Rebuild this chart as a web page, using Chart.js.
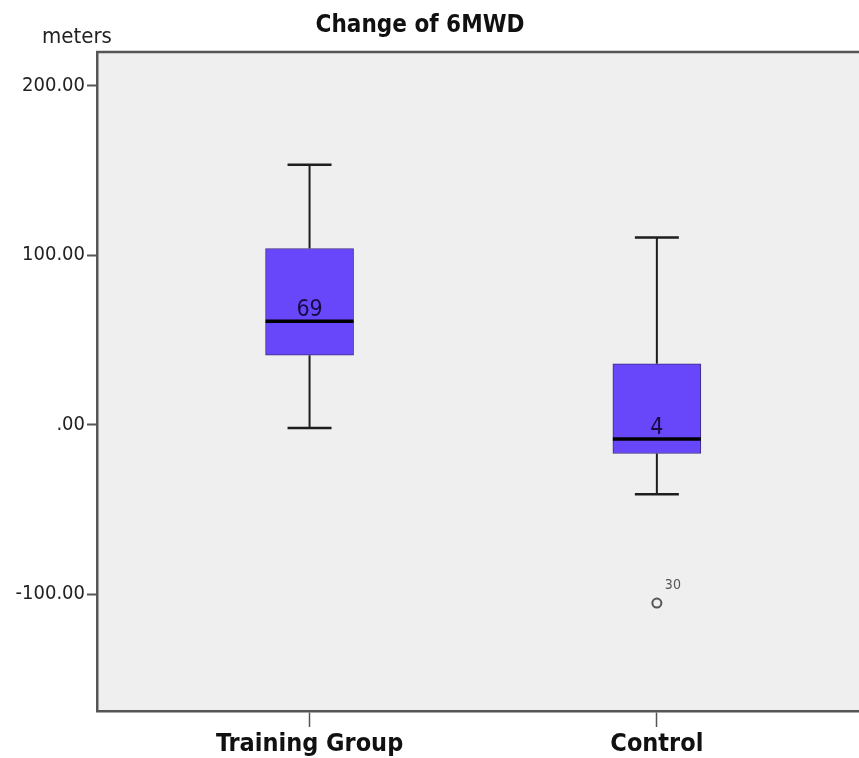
<!DOCTYPE html>
<html>
<head>
<meta charset="utf-8">
<script src="https://cdn.jsdelivr.net/npm/chart.js@4.4.1/dist/chart.umd.min.js"></script>
<style>
  body { margin: 0; background: #fff; }
  canvas { display: block; }
</style>
</head>
<body>
<canvas id="chart" width="859" height="758"></canvas>
<script>
// data
var groups = ['Training Group', 'Control'];
var groupPos = [1, 2];
var whiskerLow = [-2, -41];
var q1 = [41, -17];
var median = [61, -8.5];
var q3 = [104, 36];
var whiskerHigh = [153.5, 110.5];
var medianLabels = ['69', '4'];
var outlierPos = [2];
var outlierValues = [-105.3];
var outlierIds = ['30'];
var yTicks = [-100, 0, 100, 200];

var FONT = "'DejaVu Sans Condensed', 'DejaVu Sans', sans-serif";

var boxPlugin = {
    id: 'boxes',
    beforeDraw: (chart) => {
        let ctx = chart.ctx;
        let a = chart.chartArea;
        ctx.save();
        ctx.fillStyle = '#efefef';
        ctx.fillRect(a.left, a.top, a.right - a.left, a.bottom - a.top);
        ctx.restore();
    },
    beforeDatasetsDraw: (chart) => {
        let ctx = chart.ctx;
        let xs = chart.scales.x;
        let ys = chart.scales.y;
        ctx.save();
        ctx.strokeStyle = '#1e1e1e';
        for (let i = 0; i < groups.length; i++) {
            let x = xs.getPixelForValue(groupPos[i]);
            // whiskers
            ctx.lineWidth = 2;
            ctx.beginPath();
            ctx.moveTo(x, ys.getPixelForValue(whiskerHigh[i]));
            ctx.lineTo(x, ys.getPixelForValue(q3[i]));
            ctx.moveTo(x, ys.getPixelForValue(q1[i]));
            ctx.lineTo(x, ys.getPixelForValue(whiskerLow[i]));
            ctx.stroke();
            // caps
            ctx.lineWidth = 2.5;
            ctx.beginPath();
            ctx.moveTo(x - 22, ys.getPixelForValue(whiskerHigh[i]));
            ctx.lineTo(x + 22, ys.getPixelForValue(whiskerHigh[i]));
            ctx.moveTo(x - 22, ys.getPixelForValue(whiskerLow[i]));
            ctx.lineTo(x + 22, ys.getPixelForValue(whiskerLow[i]));
            ctx.stroke();
        }
        ctx.restore();
    },
    afterDatasetsDraw: (chart) => {
        let ctx = chart.ctx;
        let xs = chart.scales.x;
        let ys = chart.scales.y;
        ctx.save();
        for (let i = 0; i < groups.length; i++) {
            let x = xs.getPixelForValue(groupPos[i]);
            let my = ys.getPixelForValue(median[i]);
            ctx.strokeStyle = '#000';
            ctx.lineWidth = 3.5;
            ctx.beginPath();
            ctx.moveTo(x - 44, my);
            ctx.lineTo(x + 44, my);
            ctx.stroke();
            ctx.fillStyle = '#150c45';
            ctx.font = '23px ' + FONT;
            ctx.textAlign = 'center';
            ctx.textBaseline = 'alphabetic';
            ctx.fillText(medianLabels[i], x, my - 5);
        }
        // outlier ids
        ctx.fillStyle = '#555';
        ctx.font = '14px ' + FONT;
        ctx.textAlign = 'left';
        for (let j = 0; j < outlierIds.length; j++) {
            let ox = xs.getPixelForValue(outlierPos[j]);
            let oy = ys.getPixelForValue(outlierValues[j]);
            ctx.fillText(outlierIds[j], ox + 8, oy - 14);
        }
        ctx.restore();
    },
    afterDraw: (chart) => {
        let ctx = chart.ctx;
        let a = chart.chartArea;
        ctx.save();
        ctx.strokeStyle = '#555';
        ctx.lineWidth = 2.5;
        ctx.beginPath();
        ctx.moveTo(a.left - 1, a.top);
        ctx.lineTo(a.right, a.top);
        ctx.stroke();
        // title and unit
        ctx.fillStyle = '#111';
        ctx.textBaseline = 'alphabetic';
        ctx.textAlign = 'center';
        ctx.font = 'bold 24px ' + FONT;
        ctx.fillText('Change of 6MWD', 420, 32);
        ctx.textAlign = 'left';
        ctx.font = '22px ' + FONT;
        ctx.fillStyle = '#222';
        ctx.fillText('meters', 42, 43);
        ctx.restore();
    }
};

var Ctx = document.getElementById('chart');
var chart1 = new Chart(Ctx, {
    type: 'bar',
    data: {
        datasets: [{
            type: 'bar',
            data: groupPos.map((p, i) => ({ x: p, y: [q1[i], q3[i]] })),
            backgroundColor: '#6847fa',
            borderColor: '#3b2d80',
            borderWidth: 1,
            borderSkipped: false,
            barThickness: 88
        }, {
            type: 'scatter',
            data: outlierPos.map((p, i) => ({ x: p, y: outlierValues[i] })),
            pointStyle: 'circle',
            pointRadius: 4.5,
            pointBackgroundColor: 'rgba(0,0,0,0)',
            pointBorderColor: '#555',
            pointBorderWidth: 2
        }]
    },
    options: {
        responsive: false,
        animation: false,
        layout: { autoPadding: false, padding: { top: 52, right: 0, left: 0, bottom: 0 } },
        plugins: {
            legend: { display: false },
            tooltip: { enabled: false },
            title: { display: false }
        },
        scales: {
            x: {
                type: 'linear',
                offset: false,
                min: 0.388,
                max: 2.582,
                afterBuildTicks: (scale) => {
                    scale.ticks = groupPos.map(v => ({ value: v }));
                },
                afterFit: (scale) => { scale.height = 47; },
                ticks: {
                    callback: (v) => groups[groupPos.indexOf(v)],
                    font: { family: FONT, size: 25, weight: 'bold' },
                    color: '#111',
                    padding: 2,
                    maxRotation: 0
                },
                grid: { offset: false, drawOnChartArea: false, tickLength: 16, tickColor: '#555', tickWidth: 1.5 },
                border: { color: '#555', width: 2.5 }
            },
            y: {
                min: -169,
                max: 220,
                afterBuildTicks: (scale) => {
                    scale.ticks = yTicks.map(v => ({ value: v }));
                },
                afterFit: (scale) => { scale.width = 97; },
                ticks: {
                    callback: (v) => v === 0 ? '.00' : v.toFixed(2),
                    font: { family: FONT, size: 20 },
                    color: '#222',
                    padding: 2
                },
                grid: { drawOnChartArea: false, tickLength: 10, tickColor: '#555', tickWidth: 2 },
                border: { color: '#555', width: 2.5 }
            }
        }
    },
    plugins: [boxPlugin]
});
</script>
</body>
</html>
